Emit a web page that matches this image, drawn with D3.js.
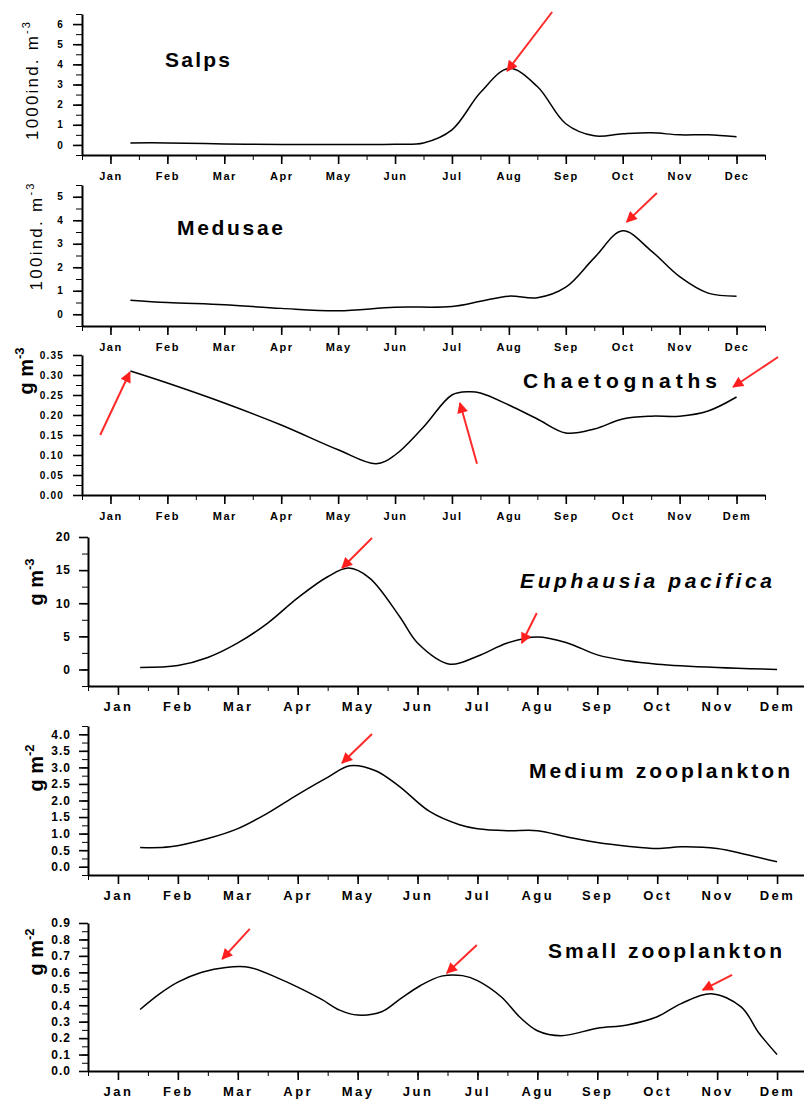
<!DOCTYPE html>
<html>
<head>
<meta charset="utf-8">
<script src="https://cdn.jsdelivr.net/npm/d3@7"></script>
<style>
  body { margin: 0; background: #fff; }
  text { font-family: "Liberation Sans", Arial, sans-serif; }
</style>
</head>
<body>
<div id="chart"></div>
<script>
// page size
const width = 804;
const height = 1100;

// month tick labels (upper two panels / lower four panels)
const monthsTop = ["Jan", "Feb", "Mar", "Apr", "May", "Jun", "Jul", "Aug", "Sep", "Oct", "Nov", "Dec"];
const monthsBottom = ["Jan", "Feb", "Mar", "Apr", "May", "Jun", "Jul", "Agu", "Sep", "Oct", "Nov", "Dem"];

// series: month position (1 = Jan) and value
const salpsMonths = [1.35, 2, 3, 4, 5, 6, 6.5, 7, 7.5, 8, 8.5, 9, 9.5, 10, 10.5, 11, 11.5, 12];
const salpsValues = [0.1, 0.1, 0.05, 0.02, 0.02, 0.03, 0.1, 0.75, 2.6, 3.8, 2.9, 1.05, 0.45, 0.55, 0.6, 0.5, 0.5, 0.4];

const medusaeMonths = [1.35, 2, 3, 4, 5, 6, 7, 7.5, 8, 8.5, 9, 9.5, 10, 10.5, 11, 11.5, 12];
const medusaeValues = [0.6, 0.5, 0.4, 0.25, 0.15, 0.3, 0.33, 0.55, 0.77, 0.7, 1.15, 2.4, 3.55, 2.7, 1.6, 0.9, 0.77];

const chaetMonths = [1.35, 2, 3, 4, 5, 5.67, 6, 6.5, 7, 7.3, 7.5, 8, 8.5, 9, 9.5, 10, 10.5, 11, 11.5, 12];
const chaetValues = [0.31, 0.28, 0.23, 0.175, 0.113, 0.078, 0.1, 0.17, 0.25, 0.258, 0.255, 0.225, 0.19, 0.155, 0.165, 0.19, 0.197, 0.197, 0.21, 0.245];

const euphMonths = [1.37, 2, 2.5, 3, 3.5, 4, 4.5, 4.85, 5.2, 5.7, 6.0, 6.54, 7, 7.5, 8.0, 8.5, 9, 9.5, 10, 11, 12];
const euphValues = [0.3, 0.6, 1.8, 4.0, 7.0, 10.8, 14.0, 15.3, 13.8, 8.0, 4.0, 0.8, 2.0, 4.0, 4.9, 4.0, 2.2, 1.3, 0.8, 0.3, 0.0];

const mediumMonths = [1.37, 1.87, 2.5, 3, 3.5, 4, 4.5, 4.87, 5.3, 5.7, 6.2, 6.7, 7, 7.5, 8, 8.5, 9, 9.5, 10, 10.4, 11, 11.5, 12];
const mediumValues = [0.58, 0.6, 0.85, 1.15, 1.62, 2.18, 2.7, 3.05, 2.9, 2.42, 1.67, 1.27, 1.15, 1.09, 1.09, 0.9, 0.73, 0.62, 0.55, 0.6, 0.55, 0.36, 0.15];

const smallMonths = [1.37, 1.7, 2, 2.4, 2.8, 3.2, 3.7, 4, 4.4, 4.7, 5, 5.4, 5.7, 6.05, 6.4, 6.75, 7, 7.4, 7.7, 8, 8.4, 9, 9.5, 10, 10.4, 10.9, 11.4, 11.7, 12];
const smallValues = [0.374, 0.47, 0.54, 0.6, 0.63, 0.63, 0.56, 0.51, 0.435, 0.37, 0.34, 0.36, 0.435, 0.52, 0.577, 0.58, 0.55, 0.45, 0.33, 0.245, 0.215, 0.26, 0.28, 0.33, 0.41, 0.47, 0.39, 0.23, 0.1];

// red arrows: [tail month, tail value, head month, head value]
const salpsArrows = [[8.76, 6.6, 7.97, 3.67]];
const medusaeArrows = [[10.6, 5.16, 10.07, 3.93]];
const chaetArrows = [[0.82, 0.15, 1.34, 0.307], [7.44, 0.078, 7.14, 0.23], [12.73, 0.345, 11.94, 0.27]];
const euphArrows = [[5.24, 19.85, 4.74, 15.32], [7.99, 8.52, 7.74, 3.99]];
const mediumArrows = [[5.24, 4.01, 4.74, 3.13]];
const smallArrows = [[3.2, 0.864, 2.74, 0.681], [6.99, 0.766, 6.49, 0.596], [11.25, 0.584, 10.76, 0.493]];

// y tick values (labelled) per panel
const salpsTicks = [0, 1, 2, 3, 4, 5, 6];
const medusaeTicks = [0, 1, 2, 3, 4, 5];
const chaetTicks = [0, 0.05, 0.1, 0.15, 0.2, 0.25, 0.3, 0.35];
const euphTicks = [0, 5, 10, 15, 20];
const mediumTicks = [0, 0.5, 1, 1.5, 2, 2.5, 3, 3.5, 4];
const smallTicks = [0, 0.1, 0.2, 0.3, 0.4, 0.5, 0.6, 0.7, 0.8, 0.9];

const svg = d3.select("#chart")
  .append("svg")
  .attr("width", width)
  .attr("height", height);

svg.append("defs").append("marker")
  .attr("id", "head")
  .attr("viewBox", "0 0 10 10")
  .attr("refX", 9)
  .attr("refY", 5)
  .attr("markerWidth", 13)
  .attr("markerHeight", 11)
  .attr("markerUnits", "userSpaceOnUse")
  .attr("orient", "auto")
  .append("path")
  .attr("d", "M0,0L10,5L0,10z")
  .attr("fill", "#ff1f1f");

// two x layouts: narrow (upper three) and wide (lower three)
const xTop = d3.scaleLinear().domain([0.5, 12.5]).range([82, 765]);
const xBottom = d3.scaleLinear().domain([0.5, 12.5]).range([88, 807]);

const panels = [
  { months: salpsMonths, values: salpsValues, arrows: salpsArrows, ticks: salpsTicks, minorStep: 0.5,
    x: xTop, labels: monthsTop, yDomain: [-0.5, 6.5], yRange: [155, 14], fmt: d3.format("d"),
    title: "Salps", tx: 165, ty: 67, tl: 65, italic: false,
    ylab: "1000ind. m", sup: "-3", lx: 38, ly: 81, lLen: 118, bold: false, small: true },
  { months: medusaeMonths, values: medusaeValues, arrows: medusaeArrows, ticks: medusaeTicks, minorStep: 0.5,
    x: xTop, labels: monthsTop, yDomain: [-0.5, 5.5], yRange: [326, 185], fmt: d3.format("d"),
    title: "Medusae", tx: 177, ty: 235, tl: 106, italic: false,
    ylab: "100ind. m", sup: "-3", lx: 42, ly: 237, lLen: 107, bold: false, small: true },
  { months: chaetMonths, values: chaetValues, arrows: chaetArrows, ticks: chaetTicks, minorStep: 0.025,
    x: xTop, labels: monthsBottom, yDomain: [0, 0.35], yRange: [495, 355], fmt: d3.format(".2f"),
    title: "Chaetognaths", tx: 523, ty: 388, tl: 194, italic: false,
    ylab: "g m", sup: "-3", lx: 33, ly: 371, bold: true, small: true },
  { months: euphMonths, values: euphValues, arrows: euphArrows, ticks: euphTicks, minorStep: 2.5,
    x: xBottom, labels: monthsBottom, yDomain: [-2.5, 20], yRange: [686, 537], fmt: d3.format("d"),
    title: "Euphausia pacifica", tx: 520, ty: 588, tl: 252, italic: true,
    ylab: "g m", sup: "-3", lx: 43, ly: 582, bold: true, small: false },
  { months: mediumMonths, values: mediumValues, arrows: mediumArrows, ticks: mediumTicks, minorStep: 0.25,
    x: xBottom, labels: monthsBottom, yDomain: [-0.25, 4.25], yRange: [875, 726], fmt: d3.format(".1f"),
    title: "Medium zooplankton", tx: 529, ty: 778, tl: 261, italic: false,
    ylab: "g m", sup: "-2", lx: 43, ly: 768, bold: true, small: false },
  { months: smallMonths, values: smallValues, arrows: smallArrows, ticks: smallTicks, minorStep: 0.05,
    x: xBottom, labels: monthsBottom, yDomain: [0, 0.9], yRange: [1071, 923], fmt: d3.format(".1f"),
    title: "Small zooplankton", tx: 548, ty: 958, tl: 234, italic: false,
    ylab: "g m", sup: "-2", lx: 43, ly: 952, bold: true, small: false }
];

panels.forEach(p => {
  const x = p.x;
  const y = d3.scaleLinear().domain(p.yDomain).range(p.yRange);
  const g = svg.append("g");
  const xAxisY = p.yRange[0];
  const xLeft = x.range()[0];

  // minor ticks every half month
  const xMinor = d3.range(1, 26).map(i => i * 0.5);
  g.append("g")
    .attr("transform", `translate(0,${xAxisY})`)
    .call(d3.axisBottom(x).tickValues(xMinor).tickSize(5).tickSizeOuter(0).tickFormat(""))
    .call(a => a.select(".domain").attr("stroke-width", 2));

  g.append("g")
    .attr("transform", `translate(0,${xAxisY})`)
    .call(d3.axisBottom(x).tickValues(d3.range(1, 13)).tickSize(9).tickPadding(p.small ? 8 : 7)
      .tickFormat(m => p.labels[m - 1]))
    .call(a => a.select(".domain").remove())
    .call(a => a.selectAll("line").attr("stroke-width", 1.6))
    .call(a => a.selectAll("text")
      .attr("font-size", p.small ? 11 : 13)
      .attr("font-weight", "bold")
      .attr("letter-spacing", p.small ? 1.5 : 2.5)
      .attr("fill", "#000"));

  // y axis
  const lo = p.yDomain[0], hi = p.yDomain[1];
  const nMinor = Math.round((hi - lo) / p.minorStep);
  const yMinor = d3.range(0, nMinor + 1).map(i => lo + i * p.minorStep);
  g.append("g")
    .attr("transform", `translate(${xLeft},0)`)
    .call(d3.axisLeft(y).tickValues(yMinor).tickSize(6).tickSizeOuter(0).tickFormat(""))
    .call(a => a.select(".domain").attr("stroke-width", 2));

  g.append("g")
    .attr("transform", `translate(${xLeft},0)`)
    .call(d3.axisLeft(y).tickValues(p.ticks).tickSize(9).tickPadding(p.small ? 9 : 8).tickFormat(p.fmt))
    .call(a => a.select(".domain").remove())
    .call(a => a.selectAll("line").attr("stroke-width", 1.6))
    .call(a => a.selectAll("text")
      .attr("font-size", p.yDomain[1] > 1 && p.small ? 10 : (p.small ? 10 : 12))
      .attr("font-weight", "bold")
      .attr("letter-spacing", p.small ? 1.2 : 1)
      .attr("fill", "#000"));

  // series line
  const pts = p.months.map((m, i) => [m, p.values[i]]);
  g.append("path")
    .datum(pts)
    .attr("fill", "none")
    .attr("stroke", "#000")
    .attr("stroke-width", 1.5)
    .attr("d", d3.line().x(d => x(d[0])).y(d => y(d[1])).curve(d3.curveCatmullRom.alpha(0.5)));

  // arrows
  g.selectAll(".arrow")
    .data(p.arrows)
    .enter()
    .append("line")
    .attr("class", "arrow")
    .attr("x1", d => x(d[0]))
    .attr("y1", d => y(d[1]))
    .attr("x2", d => x(d[2]))
    .attr("y2", d => y(d[3]))
    .attr("stroke", "#ff2a2a")
    .attr("stroke-width", 2)
    .attr("marker-end", "url(#head)");

  // title
  g.append("text")
    .attr("x", p.tx)
    .attr("y", p.ty)
    .attr("font-size", 21)
    .attr("font-weight", "bold")
    .attr("font-style", p.italic ? "italic" : "normal")
    .attr("textLength", p.tl)
    .attr("lengthAdjust", "spacing")
    .text(p.title);

  // y label
  const yl = g.append("text")
    .attr("transform", `translate(${p.lx},${p.ly}) rotate(-90)`)
    .attr("text-anchor", "middle")
    .attr("font-size", p.bold ? 20 : 17)
    .attr("font-weight", p.bold ? "bold" : "normal");
  if (p.lLen) yl.attr("textLength", p.lLen).attr("lengthAdjust", "spacing");
  yl.append("tspan").text(p.ylab);
  yl.append("tspan")
    .attr("font-size", p.bold ? 13 : 11)
    .attr("dy", p.bold ? -9 : -8)
    .text(p.sup);
});
</script>
</body>
</html>
